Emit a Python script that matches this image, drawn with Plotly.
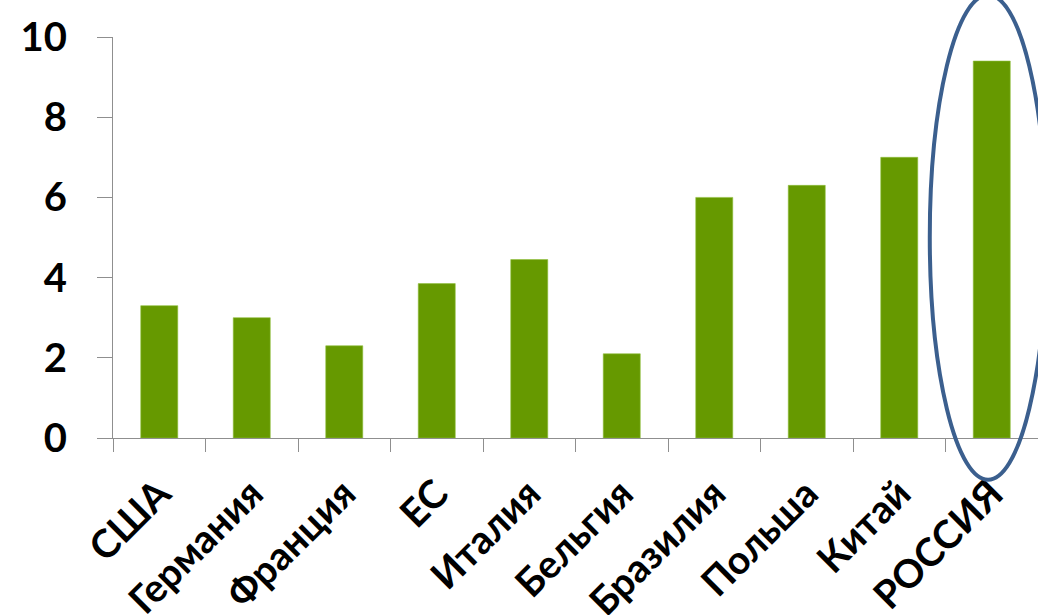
import plotly.graph_objects as go

categories = ["США", "Германия", "Франция", "ЕС", "Италия", "Бельгия",
              "Бразилия", "Польша", "Китай", "РОССИЯ"]
values = [3.3, 3.0, 2.3, 3.85, 4.45, 2.1, 6.0, 6.3, 7.0, 9.4]
y_ticks = [0, 2, 4, 6, 8, 10]

BAR = "#669900"
AXIS = "#8f8f8f"
FONT = dict(family="Lato, 'Open Sans', sans-serif", size=40, color="#000000", weight="bold")

fig = go.Figure(go.Bar(
    x=categories, y=values,
    marker=dict(color=BAR, line=dict(color="#8fbf3a", width=0.6)),
    width=0.4,
))

fig.update_layout(
    width=1038, height=615,
    margin=dict(l=113, r=0, t=37, b=176.5, autoexpand=False),
    paper_bgcolor="white", plot_bgcolor="white",
    showlegend=False,
    bargap=0.6,
    xaxis=dict(
        type="category", tickson="boundaries", ticks="outside", ticklen=13,
        tickcolor=AXIS, tickwidth=1.3, showline=True, linecolor=AXIS, linewidth=1.3,
        showgrid=False, tickangle=-45, tickfont=dict(FONT, size=39), automargin=False,
        range=[-0.5, 9.5], ticklabelstandoff=16,
    ),
    yaxis=dict(
        range=[0, 10], tickvals=y_ticks, ticks="outside", ticklen=15,
        tickcolor=AXIS, tickwidth=1.3, showline=True, linecolor=AXIS, linewidth=1.3,
        showgrid=False, zeroline=False, tickfont=FONT, automargin=False,
        ticklabelstandoff=22,
    ),
    shapes=[dict(
        type="circle", xref="paper", yref="paper",
        x0=0.883, x1=1.009, y0=-0.104, y1=1.105,
        line=dict(color="#3b5f8e", width=4), fillcolor="rgba(0,0,0,0)",
        layer="above",
    )],
)

fig.write_html("out.html")
